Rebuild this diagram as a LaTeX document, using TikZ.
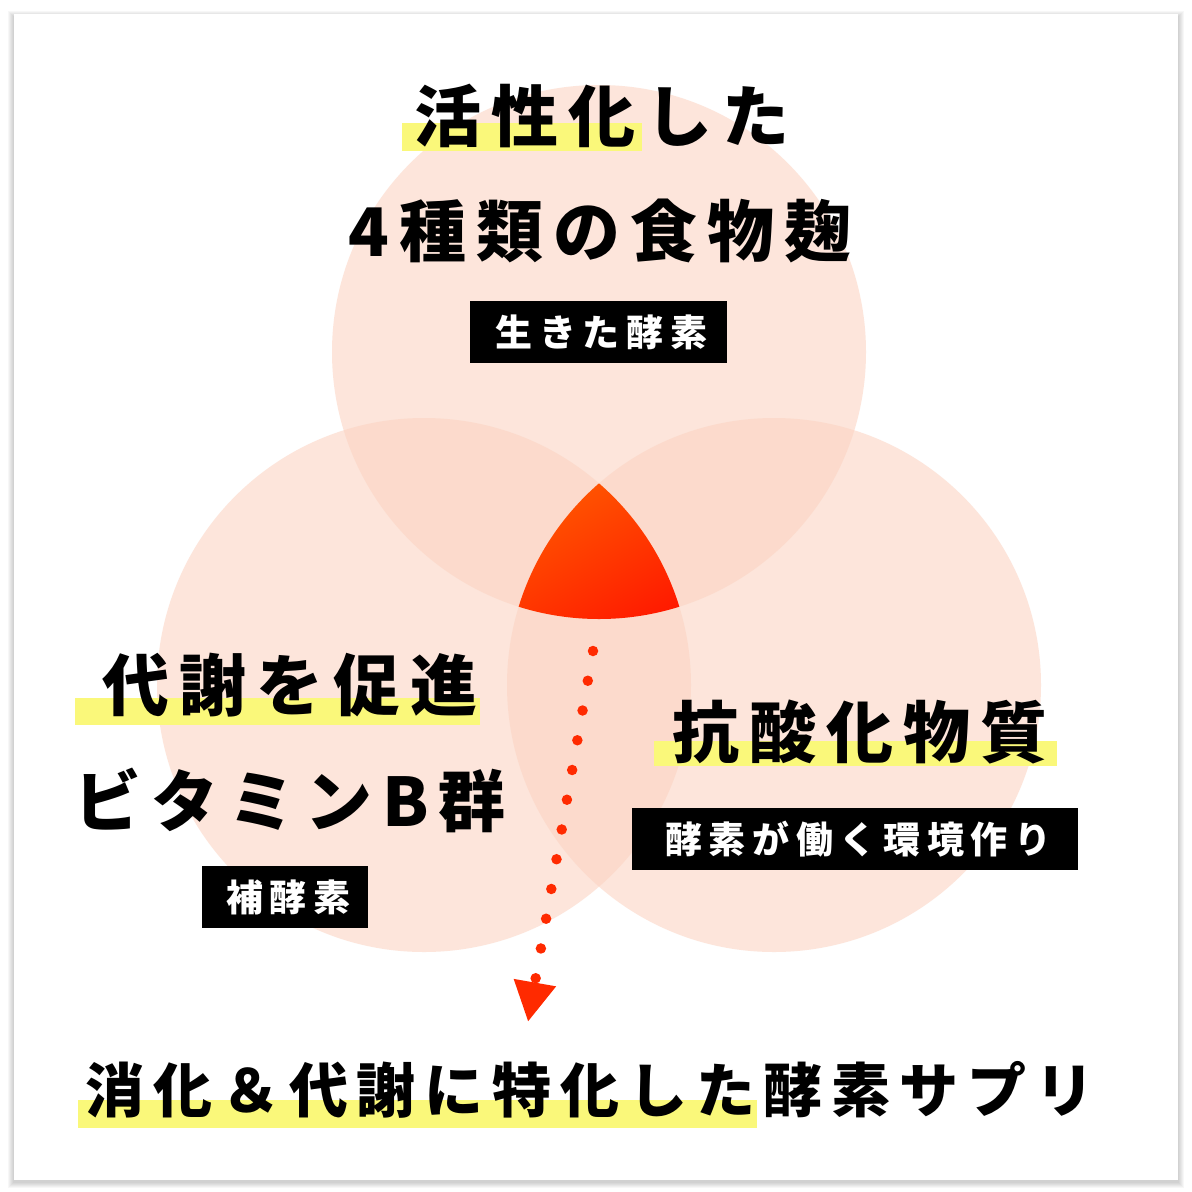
\documentclass[tikz,border=0pt]{standalone}
\usepackage{fontspec}
\usetikzlibrary{arrows.meta}
\newfontfamily\headfont{Noto Sans CJK JP}[LetterSpace=15]
\newfontfamily\tagfont{Noto Sans CJK JP}[LetterSpace=18]
\definecolor{bubblepink}{HTML}{FCD4C3}
\definecolor{coreorange}{HTML}{FF5C00}
\definecolor{corered}{HTML}{FF1A00}
\definecolor{dotred}{HTML}{FF2A00}
\definecolor{hiliteyellow}{HTML}{FAF87A}

\begin{document}
\begin{tikzpicture}[
    x=1pt, y=-1pt,
    bubble/.style={fill=bubblepink, fill opacity=0.6},
    heading/.style={inner sep=0pt, font=\headfont\bfseries\fontsize{67}{67}\selectfont},
    footline/.style={inner sep=0pt, font=\headfont\bfseries\fontsize{59}{59}\selectfont},
    tagbox/.style={fill=black, text=white, inner sep=0pt, minimum height=62pt,
        font=\tagfont\bfseries\fontsize{37}{37}\selectfont, execute at begin node={\kern7pt}},
    hilite/.style={fill=hiliteyellow},
    dotline/.style={draw=dotred, line width=10.5pt, line cap=round, dash pattern=on 0pt off 30.2pt}
]
\useasboundingbox (0,0) rectangle (1192,1192);

% card with soft shadow
\fill[white] (0,0) rectangle (1192,1192);
\foreach \s in {1,...,6}
    \fill[black, opacity=0.03] (14-\s,14-\s+3) rectangle (1178+\s,1180+\s+2);
\fill[white] (14,14) rectangle (1178,1180);

% three circles
\coordinate (ctop) at (599,352);
\coordinate (cleft) at (424,685);
\coordinate (cright) at (774,685);
\fill[bubble] (ctop) circle[radius=267pt];
\fill[bubble] (cleft) circle[radius=267pt];
\fill[bubble] (cright) circle[radius=267pt];

% common part
\begin{scope}
    \clip (ctop) circle[radius=267pt];
    \clip (cleft) circle[radius=267pt];
    \clip (cright) circle[radius=267pt];
    \shade[left color=coreorange, right color=corered, shading angle=30] (500,470) rectangle (700,630);
\end{scope}

% marker lines
\fill[hilite] (402,123) rectangle (642,151);
\fill[hilite] (75,698) rectangle (480,725);
\fill[hilite] (654,741) rectangle (1057,766);
\fill[hilite] (78,1100) rectangle (757,1128);

% texts
\node[heading] (active) at (602,116) {活性化した};
\node[heading] (koji) at (600,231) {4種類の食物麹};
\node[tagbox, minimum width=257pt] (live) at (598,332) {生きた酵素};

\node[heading] (meta) at (290,685) {代謝を促進};
\node[heading] (vitb) at (290,800) {ビタミンB群};
\node[tagbox, minimum width=166pt] (coenz) at (285,897) {補酵素};

\node[heading] (anti) at (860,732) {抗酸化物質};
\node[tagbox, minimum width=446pt] (envir) at (855,839) {酵素が働く環境作り};

\node[footline] (goal) at (590,1090) {消化＆代謝に特化した酵素サプリ};

% dotted arrow
\coordinate (drop) at (593,651);
\coordinate (tip) at (528,1022);
\draw[dotline, -{Triangle[width=40pt,length=40pt]}] (drop) -- (tip);

\end{tikzpicture}
\end{document}
